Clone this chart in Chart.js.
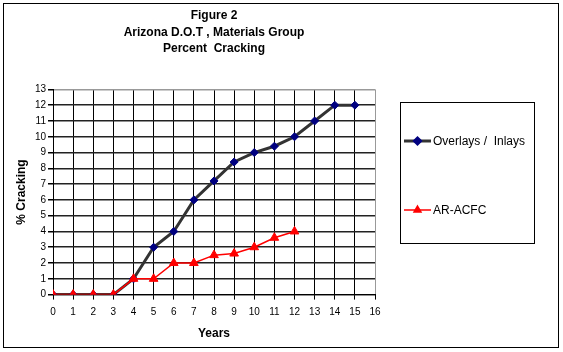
<!DOCTYPE html>
<html>
<head>
<meta charset="utf-8">
<style>
  body { margin: 0; background: #fff; }
  #wrap { width: 563px; height: 352px; }
</style>
<script src="https://cdn.jsdelivr.net/npm/chart.js@4/dist/chart.umd.min.js"></script>
</head>
<body>
<div id="wrap"><canvas id="crackChart" width="563" height="352"></canvas></div>
<script>
  const titleLines = ["Figure 2", "Arizona D.O.T , Materials Group", "Percent  Cracking"];
  const years = [0, 1, 2, 3, 4, 5, 6, 7, 8, 9, 10, 11, 12, 13, 14, 15];
  const overlays = [0, 0, 0, 0, 1, 3, 4, 6, 7.2, 8.4, 9, 9.4, 10, 11, 12, 12];
  const arAcfc = [0, 0, 0, 0, 1, 1, 2, 2, 2.5, 2.6, 3, 3.6, 4];
  const seriesNames = ["Overlays /  Inlays", "AR-ACFC"];

  const FONT = "'Liberation Sans', Arial, sans-serif";

  // marco exterior y fondo
  const frame = {
    id: "frame",
    beforeDraw(chart) {
      const c = chart.ctx;
      c.save();
      c.fillStyle = "#fff";
      c.fillRect(0, 0, chart.width, chart.height);
      c.strokeStyle = "#000";
      c.lineWidth = 1;
      c.strokeRect(3.5, 3.5, 555, 344);
      c.restore();
    },
  };

  // leyenda en caja a la derecha
  const boxLegend = {
    id: "boxLegend",
    afterDraw(chart) {
      const c = chart.ctx;
      c.save();
      c.strokeStyle = "#000";
      c.lineWidth = 1;
      c.strokeRect(400.5, 102.5, 134, 141);
      const rows = [141, 210];
      chart.data.datasets.forEach((ds, i) => {
        const y = rows[i];
        c.strokeStyle = ds.borderColor;
        c.lineWidth = ds.borderWidth;
        c.beginPath();
        c.moveTo(404, y);
        c.lineTo(431, y);
        c.stroke();
        c.fillStyle = ds.pointBackgroundColor;
        c.strokeStyle = ds.pointBorderColor;
        Chart.helpers.drawPoint(c, {
          pointStyle: ds.pointStyle,
          radius: ds.pointRadius - 1,
          borderWidth: 1,
        }, 417.5, y);
        c.fillStyle = "#000";
        c.font = "12px " + FONT;
        c.textBaseline = "middle";
        c.textAlign = "left";
        c.fillText(ds.label, 433, y + 1);
      });
      c.restore();
    },
  };

  const ctx = document.getElementById("crackChart");

  new Chart(ctx, {
    type: "line",
    data: {
      datasets: [
        {
          label: seriesNames[0],
          data: overlays.map((v, i) => ({ x: years[i], y: v })),
          borderColor: "#333333",
          borderWidth: 3,
          pointStyle: "rectRot",
          pointRadius: 4,
          pointBackgroundColor: "#000080",
          pointBorderColor: "#000080",
          pointBorderWidth: 1,
          tension: 0,
          order: 1,
        },
        {
          label: seriesNames[1],
          data: arAcfc.map((v, i) => ({ x: years[i], y: v })),
          borderColor: "#ff0000",
          borderWidth: 1.5,
          pointStyle: "triangle",
          pointRadius: 5,
          pointBackgroundColor: "#ff0000",
          pointBorderColor: "#ff0000",
          pointBorderWidth: 1,
          tension: 0,
          order: 0,
        },
      ],
    },
    options: {
      responsive: false,
      animation: false,
      layout: {
        padding: { left: 10, right: 188, top: 0, bottom: 11 },
      },
      plugins: {
        legend: { display: false },
        tooltip: { enabled: false },
        title: {
          display: true,
          fullSize: false,
          text: titleLines,
          color: "#000",
          font: { family: FONT, size: 12, weight: "bold", lineHeight: 1.4 },
          padding: { top: 7, bottom: 32 },
        },
      },
      scales: {
        x: {
          type: "linear",
          min: 0,
          max: 16,
          ticks: {
            stepSize: 1,
            color: "#000",
            font: { family: FONT, size: 10 },
            padding: 7,
            maxRotation: 0,
          },
          grid: {
            color: (c) => (c.index === 16 ? "#999" : "#000"),
            lineWidth: 1,
            tickLength: 5,
            tickColor: "#000",
          },
          border: { color: "#000", width: 1 },
          title: {
            display: true,
            text: "Years",
            color: "#000",
            font: { family: FONT, size: 12, weight: "bold" },
            padding: { top: 1, bottom: 0 },
          },
        },
        y: {
          min: 0,
          max: 13,
          afterFit: (scale) => {
            scale.width = 43;
          },
          ticks: {
            stepSize: 1,
            color: "#000",
            font: { family: FONT, size: 10 },
            padding: 2,
          },
          grid: {
            color: (c) => (c.index === 13 ? "#999" : "#222"),
            lineWidth: 1.5,
            tickLength: 5,
            tickColor: "#000",
          },
          border: { color: "#000", width: 1 },
          title: {
            display: true,
            text: "% Cracking",
            color: "#000",
            font: { family: FONT, size: 12, weight: "bold" },
            padding: { top: 4, bottom: 4 },
          },
        },
      },
    },
    plugins: [frame, boxLegend],
  });
</script>
</body>
</html>
